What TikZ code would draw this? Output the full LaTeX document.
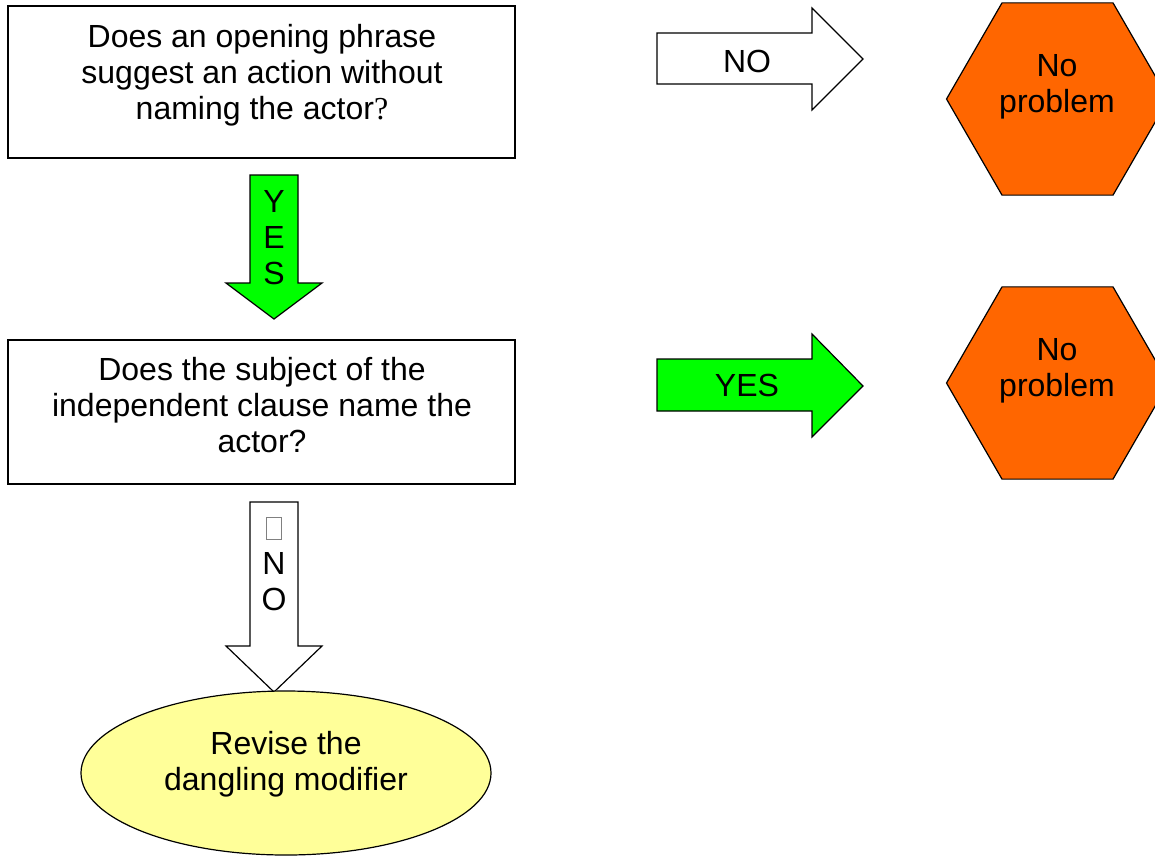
\documentclass[tikz,border=0pt]{standalone}
\usepackage{fontspec}
\setmainfont{Liberation Sans}
\newfontfamily\serifq{Liberation Serif}
\usepackage{tikz}

\definecolor{hexorange}{HTML}{FF6600}
\definecolor{arrowgreen}{HTML}{00FF00}
\definecolor{ovalyellow}{HTML}{FFFF99}
\newcommand{\tofubox}{{\color{gray}\setlength{\fboxsep}{0pt}\setlength{\fboxrule}{0.8pt}\framebox[16pt]{\rule{0pt}{21pt}}}}

\begin{document}
\begin{tikzpicture}[x=1pt,y=-1pt,line width=1.2pt,
        txt/.style={align=center,inner sep=0pt,font=\fontsize{32}{36}\selectfont}]
        \useasboundingbox (0,0) rectangle (1155,855);

        % Question boxes
        \draw (8,6) rectangle (515,158);
        \draw (8,340) rectangle (515,484);

        % Down arrows
        \draw[fill=arrowgreen] (250,175) -- (298,175) -- (298,283) -- (322,283)
            -- (274,319) -- (226,283) -- (250,283) -- cycle;
        \draw[fill=white] (250,502) -- (298,502) -- (298,646) -- (322,646)
            -- (274,692) -- (226,646) -- (250,646) -- cycle;

        % Right arrows
        \draw[fill=white] (657,33) -- (812,33) -- (812,8) -- (863,59)
            -- (812,110) -- (812,84) -- (657,84) -- cycle;
        \draw[fill=arrowgreen] (657,359) -- (812,359) -- (812,334) -- (863,386)
            -- (812,437) -- (812,411) -- (657,411) -- cycle;

        % Hexagons
        \foreach \cy in {99,383} {
            \draw[fill=hexorange] (1057.5,\cy) +(0:111) -- +(60:111) -- +(120:111)
                -- +(180:111) -- +(240:111) -- +(300:111) -- cycle;
        }

        % Oval
        \draw[fill=ovalyellow] (286,773) ellipse (205 and 82);

        % Labels
        \node[txt] (q1) at (262,75) {Does an opening phrase\\suggest an action without\\naming the actor{\serifq ?}};
        \node[txt] (q2) at (262,405.5) {Does the subject of the\\independent clause name the\\actor?};
        \node[txt] (yesdown) at (274,238) {Y\\E\\S};
        \node[txt] (nodown) at (274,564) {\tofubox\\N\\O};
        \node[txt] (noright) at (747,61) {NO};
        \node[txt] (yesright) at (747,385) {YES};
        \node[txt] (ok1) at (1057,87) {No\\problem};
        \node[txt] (ok2) at (1057,371) {No\\problem};
        \node[txt] (fix) at (286,764) {Revise the\\dangling modifier};
    \end{tikzpicture}
\end{document}
